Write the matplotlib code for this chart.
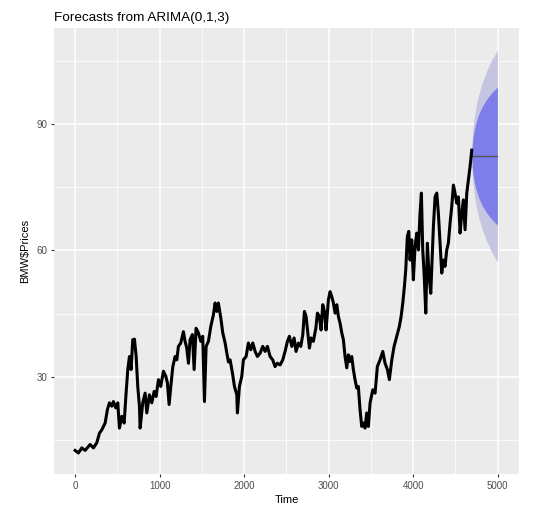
import matplotlib
matplotlib.use("Agg")
import matplotlib.pyplot as plt
from matplotlib.ticker import MultipleLocator

plt.rcParams['font.family'] = ['Liberation Sans', 'DejaVu Sans']

time = [0, 39, 79, 118, 177, 217, 256, 288, 316, 355, 382, 406, 434, 453, 481, 505, 524, 552, 580,
        603, 623, 643, 662, 682, 702, 722, 741, 761, 769, 800, 828, 848, 879, 907, 935, 958, 986,
        1013, 1045, 1073, 1092, 1112, 1132, 1156, 1183, 1203, 1222, 1250, 1281, 1301, 1321, 1341,
        1360, 1388, 1408, 1431, 1459, 1487, 1510, 1530, 1550, 1577, 1605, 1636, 1656, 1676, 1695,
        1724, 1747, 1775, 1795, 1814,
        1834, 1861, 1885, 1913, 1920, 1944, 1972, 1991, 2023, 2050, 2078, 2102, 2130, 2157, 2189,
        2220, 2248, 2275, 2307, 2338, 2366, 2393, 2425, 2457, 2484, 2512, 2535, 2564, 2591, 2614,
        2642, 2670, 2694, 2713, 2733, 2753, 2772, 2792, 2819, 2848, 2867, 2890, 2910, 2930, 2950,
        2969, 2997, 3017, 3037, 3056, 3076, 3096, 3115, 3135, 3155, 3174, 3194, 3214, 3233, 3253,
        3273, 3292, 3312, 3332, 3351,
        3371, 3391, 3411, 3430, 3450, 3470, 3490, 3522, 3549, 3576, 3608, 3640, 3667, 3695, 3718,
        3747, 3774, 3806, 3836, 3857, 3877, 3896, 3912, 3931, 3948, 3963, 3983, 4002, 4022, 4042,
        4062, 4081, 4097, 4113, 4129, 4149, 4168, 4188, 4208, 4223, 4239, 4259, 4279, 4298, 4318,
        4338, 4357, 4377, 4397, 4416, 4436, 4456, 4476, 4495, 4515, 4535, 4555, 4575, 4594, 4614,
        4634, 4653, 4673, 4693]

prices = [12.5, 11.9, 13.1, 12.5, 13.9, 13.1, 14.3, 16.6, 17.4, 19.0, 22.2, 23.8, 23.0, 24.1, 22.6,
          23.8, 17.8, 20.6, 19.0, 26.1, 31.7, 34.8, 31.7, 38.8, 38.9, 34.8, 27.7, 23.0, 17.8, 23.8,
          26.1, 21.4, 25.7, 23.8, 26.5, 25.3, 29.3, 27.7, 31.3, 30.1, 28.5, 23.4, 27.7, 32.4, 34.8,
          34.0, 37.2, 38.0, 40.7, 38.4, 36.8, 33.2, 38.8, 40.0, 31.7, 41.5, 40.4, 38.4, 39.6, 24.1,
          37.2, 38.4, 41.9, 44.7, 47.5, 45.5, 47.5, 43.9, 40.4, 38.0, 35.6, 33.5,
          34.0, 30.9, 27.7, 25.7, 21.4, 27.7, 30.1, 34.0, 34.8, 38.0, 36.4, 38.0, 36.0, 34.8, 35.6,
          37.2, 36.0, 37.2, 34.8, 34.0, 32.4, 33.2, 32.8, 34.0, 36.0, 38.4, 39.6, 37.2, 39.2, 36.0,
          38.0, 37.2, 40.0, 45.5, 44.3, 40.4, 36.8, 39.2, 38.4, 41.5, 45.1, 44.3, 41.1, 47.1, 45.5,
          41.1, 48.3, 50.2, 49.0, 47.5, 45.1, 47.1, 44.3, 42.7, 40.4, 38.8, 34.8, 32.1, 35.2, 33.6,
          34.8, 31.7, 29.3, 27.3, 27.7,
          22.2, 18.2, 19.0, 17.8, 21.4, 18.2, 23.8, 26.9, 26.1, 32.4, 34.0, 36.0, 33.2, 31.7, 29.3,
          34.0, 37.2, 39.6, 41.9, 44.3, 47.5, 51.4, 55.4, 63.3, 64.5, 57.7, 62.5, 53.0, 60.9, 64.1,
          60.1, 68.8, 73.6, 60.1, 54.6, 45.1, 61.7, 53.8, 49.8, 57.7, 65.6, 72.7, 73.6, 68.8, 61.7,
          54.6, 57.7, 56.2, 60.1, 61.7, 66.4, 70.4, 75.5, 73.6, 71.2, 72.7, 64.1, 68.8, 72.0, 64.9,
          73.6, 76.7, 79.9, 83.8]

# ---- forecast ----
fc_time = [4693, 4698, 4708, 4723, 4743, 4773, 4813, 4863, 4923, 4996]
fc_mean = [82.4, 82.4, 82.4, 82.4, 82.4, 82.4, 82.4, 82.4, 82.4, 82.4]
hi80 = [82.4, 85.0, 86.8, 88.6, 90.3, 92.2, 94.0, 95.7, 97.3, 98.8]
lo80 = [82.4, 79.8, 78.0, 76.2, 74.5, 72.6, 70.8, 69.1, 67.5, 66.0]
hi95 = [82.4, 86.3, 89.0, 91.6, 94.1, 96.9, 99.6, 102.3, 105.0, 107.5]
lo95 = [82.4, 78.5, 75.8, 73.2, 70.7, 67.9, 65.2, 62.5, 59.8, 57.3]

title = "Forecasts from ARIMA(0,1,3)"
xlabel = "Time"
ylabel = r"BMW\$Prices"

fig = plt.figure(figsize=(5.45, 5.12), dpi=100)
ax = fig.add_axes([54 / 545, 1 - 474 / 512, (519 - 54) / 545, (474 - 28) / 512])
ax.set_facecolor("#EBEBEB")

ax.fill_between(fc_time, lo95, hi95, color="#C5C5E2", linewidth=0, zorder=2)
ax.fill_between(fc_time, lo80, hi80, color="#7E7EEA", linewidth=0, zorder=3)
ax.plot(fc_time, fc_mean, color="#555555", linewidth=1.0, zorder=4)
ax.plot(time, prices, color="black", linewidth=2.2, zorder=5)

ax.set_xlim(-250, 5252)
ax.set_ylim(6.9, 112.8)

ax.xaxis.set_major_locator(MultipleLocator(1000))
ax.xaxis.set_minor_locator(MultipleLocator(500))
ax.yaxis.set_major_locator(MultipleLocator(30))
ax.set_yticks([15, 45, 75, 105], minor=True)

ax.grid(which="major", color="white", linewidth=1.1, zorder=0)
ax.grid(which="minor", color="white", linewidth=0.55, zorder=0)
ax.set_axisbelow(True)
for s in ax.spines.values():
    s.set_visible(False)

ax.tick_params(which="major", length=2.2, width=0.8, color="#333333",
               labelsize=7, labelcolor="#4D4D4D", pad=2.5)
ax.tick_params(which="minor", length=0)

ax.set_xlabel(xlabel, fontsize=8, color="black", labelpad=3)
ax.set_ylabel(ylabel, fontsize=8, color="black", labelpad=5)
fig.text(54 / 545, 1 - 20.5 / 512, title, fontsize=9.7, color="black", ha="left", va="baseline")

fig.savefig("out.png", dpi=100)
